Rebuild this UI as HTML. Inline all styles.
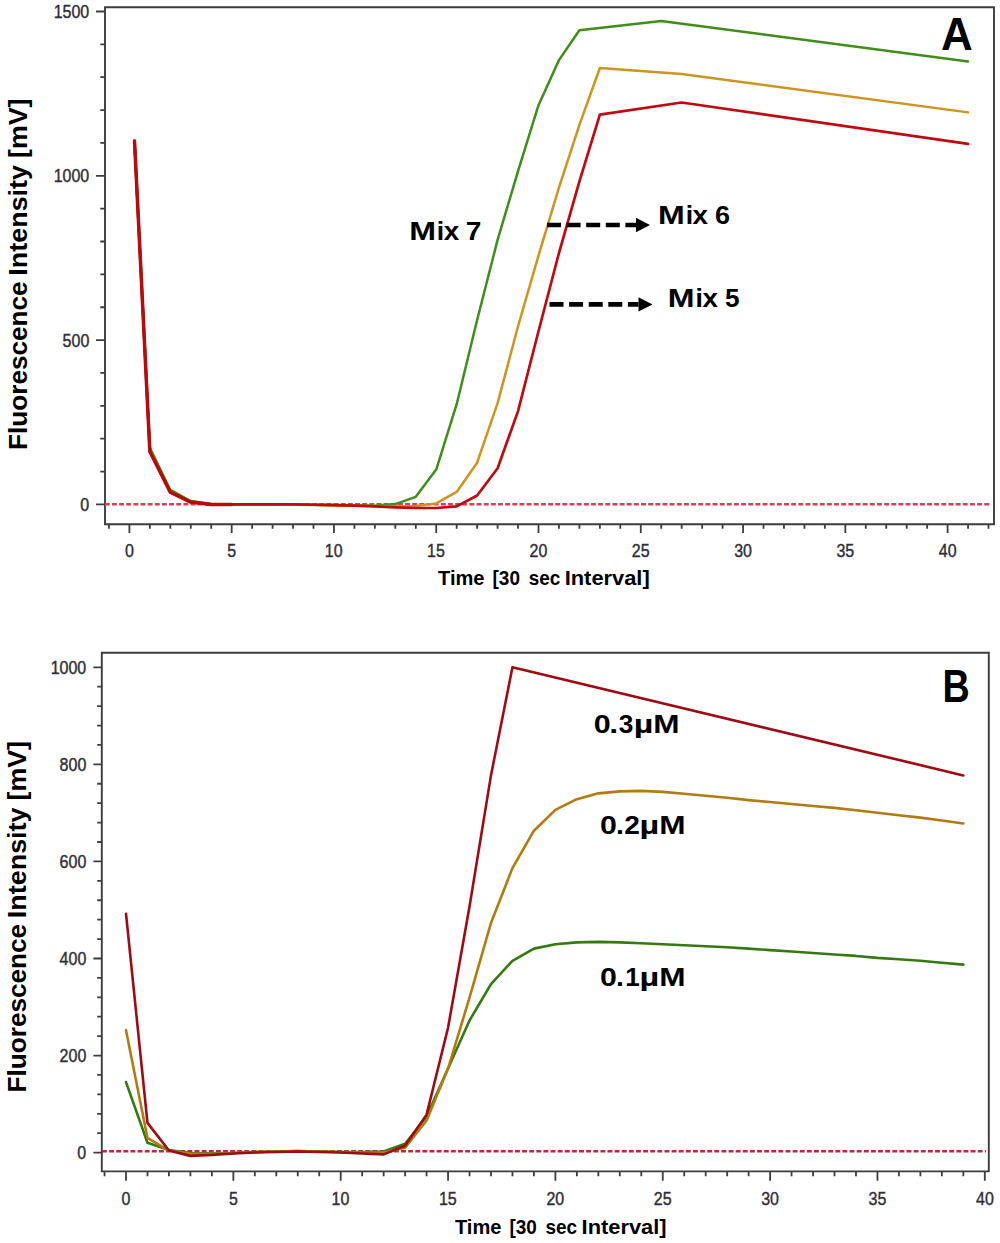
<!DOCTYPE html>
<html><head><meta charset="utf-8"><style>
html,body{margin:0;padding:0;background:#fff;}
svg{display:block;}
</style></head><body>
<svg width="1000" height="1243" viewBox="0 0 1000 1243">
<rect width="1000" height="1243" fill="#fff"/>
<path d="M105 7.2H994V524.3H105Z" fill="none" stroke="#3d3d3d" stroke-width="1.9"/>
<path d="M96 504.40H105 M100.3 471.54H105 M100.3 438.68H105 M100.3 405.82H105 M100.3 372.96H105 M96 340.10H105 M100.3 307.24H105 M100.3 274.38H105 M100.3 241.52H105 M100.3 208.66H105 M96 175.80H105 M100.3 142.94H105 M100.3 110.08H105 M100.3 77.22H105 M100.3 44.36H105 M96 11.50H105 M108.95 524.3V528.8 M129.40 524.3V533 M149.86 524.3V528.8 M170.31 524.3V528.8 M190.76 524.3V528.8 M211.22 524.3V528.8 M231.68 524.3V533 M252.13 524.3V528.8 M272.59 524.3V528.8 M293.04 524.3V528.8 M313.50 524.3V528.8 M333.95 524.3V533 M354.40 524.3V528.8 M374.86 524.3V528.8 M395.31 524.3V528.8 M415.77 524.3V528.8 M436.23 524.3V533 M456.68 524.3V528.8 M477.13 524.3V528.8 M497.59 524.3V528.8 M518.04 524.3V528.8 M538.50 524.3V533 M558.95 524.3V528.8 M579.41 524.3V528.8 M599.87 524.3V528.8 M620.32 524.3V528.8 M640.77 524.3V533 M661.23 524.3V528.8 M681.68 524.3V528.8 M702.14 524.3V528.8 M722.59 524.3V528.8 M743.05 524.3V533 M763.50 524.3V528.8 M783.96 524.3V528.8 M804.41 524.3V528.8 M824.87 524.3V528.8 M845.32 524.3V533 M865.78 524.3V528.8 M886.23 524.3V528.8 M906.69 524.3V528.8 M927.14 524.3V528.8 M947.60 524.3V533 M968.05 524.3V528.8 M988.51 524.3V528.8" stroke="#3d3d3d" stroke-width="1.8" fill="none"/>
<path d="M104.8 504.3H991" stroke="#e03a55" stroke-width="2.4" stroke-dasharray="4.9 2.25" fill="none"/>
<text font-family="'Liberation Sans', sans-serif" font-size="100" font-weight="normal" fill="#2e2e38" transform="matrix(0.160000 0 0 0.184000 80.36 510.85)" stroke="#2e2e38" stroke-width="2.2">0</text>
<text font-family="'Liberation Sans', sans-serif" font-size="100" font-weight="normal" fill="#2e2e38" transform="matrix(0.160000 0 0 0.184000 62.60 346.55)" stroke="#2e2e38" stroke-width="2.2">500</text>
<text font-family="'Liberation Sans', sans-serif" font-size="100" font-weight="normal" fill="#2e2e38" transform="matrix(0.160000 0 0 0.184000 53.64 182.25)" stroke="#2e2e38" stroke-width="2.2">1000</text>
<text font-family="'Liberation Sans', sans-serif" font-size="100" font-weight="normal" fill="#2e2e38" transform="matrix(0.160000 0 0 0.184000 53.64 17.95)" stroke="#2e2e38" stroke-width="2.2">1500</text>
<text font-family="'Liberation Sans', sans-serif" font-size="100" font-weight="normal" fill="#2e2e38" transform="matrix(0.160000 0 0 0.184000 124.96 557.25)" stroke="#2e2e38" stroke-width="2.2">0</text>
<text font-family="'Liberation Sans', sans-serif" font-size="100" font-weight="normal" fill="#2e2e38" transform="matrix(0.160000 0 0 0.184000 227.24 557.16)" stroke="#2e2e38" stroke-width="2.2">5</text>
<text font-family="'Liberation Sans', sans-serif" font-size="100" font-weight="normal" fill="#2e2e38" transform="matrix(0.160000 0 0 0.184000 324.79 557.25)" stroke="#2e2e38" stroke-width="2.2">10</text>
<text font-family="'Liberation Sans', sans-serif" font-size="100" font-weight="normal" fill="#2e2e38" transform="matrix(0.160000 0 0 0.184000 427.07 557.16)" stroke="#2e2e38" stroke-width="2.2">15</text>
<text font-family="'Liberation Sans', sans-serif" font-size="100" font-weight="normal" fill="#2e2e38" transform="matrix(0.160000 0 0 0.184000 529.54 557.25)" stroke="#2e2e38" stroke-width="2.2">20</text>
<text font-family="'Liberation Sans', sans-serif" font-size="100" font-weight="normal" fill="#2e2e38" transform="matrix(0.160000 0 0 0.184000 631.82 557.25)" stroke="#2e2e38" stroke-width="2.2">25</text>
<text font-family="'Liberation Sans', sans-serif" font-size="100" font-weight="normal" fill="#2e2e38" transform="matrix(0.160000 0 0 0.184000 734.17 557.25)" stroke="#2e2e38" stroke-width="2.2">30</text>
<text font-family="'Liberation Sans', sans-serif" font-size="100" font-weight="normal" fill="#2e2e38" transform="matrix(0.160000 0 0 0.184000 836.44 557.25)" stroke="#2e2e38" stroke-width="2.2">35</text>
<text font-family="'Liberation Sans', sans-serif" font-size="100" font-weight="normal" fill="#2e2e38" transform="matrix(0.160000 0 0 0.184000 938.84 557.25)" stroke="#2e2e38" stroke-width="2.2">40</text>
<path d="M101.8 652.8H988.8V1171.4H101.8Z" fill="none" stroke="#3d3d3d" stroke-width="1.9"/>
<path d="M93.4 1152.60H101.8 M97.2 1133.19H101.8 M97.2 1113.78H101.8 M97.2 1094.36H101.8 M97.2 1074.95H101.8 M93.4 1055.54H101.8 M97.2 1036.13H101.8 M97.2 1016.72H101.8 M97.2 997.30H101.8 M97.2 977.89H101.8 M93.4 958.48H101.8 M97.2 939.07H101.8 M97.2 919.66H101.8 M97.2 900.24H101.8 M97.2 880.83H101.8 M93.4 861.42H101.8 M97.2 842.01H101.8 M97.2 822.60H101.8 M97.2 803.18H101.8 M97.2 783.77H101.8 M93.4 764.36H101.8 M97.2 744.95H101.8 M97.2 725.54H101.8 M97.2 706.12H101.8 M97.2 686.71H101.8 M93.4 667.30H101.8 M104.53 1171.4V1176.2 M126.00 1171.4V1180.8 M147.47 1171.4V1176.2 M168.94 1171.4V1176.2 M190.41 1171.4V1176.2 M211.88 1171.4V1176.2 M233.35 1171.4V1180.8 M254.82 1171.4V1176.2 M276.29 1171.4V1176.2 M297.76 1171.4V1176.2 M319.23 1171.4V1176.2 M340.70 1171.4V1180.8 M362.17 1171.4V1176.2 M383.64 1171.4V1176.2 M405.11 1171.4V1176.2 M426.58 1171.4V1176.2 M448.05 1171.4V1180.8 M469.52 1171.4V1176.2 M490.99 1171.4V1176.2 M512.46 1171.4V1176.2 M533.93 1171.4V1176.2 M555.40 1171.4V1180.8 M576.87 1171.4V1176.2 M598.34 1171.4V1176.2 M619.81 1171.4V1176.2 M641.28 1171.4V1176.2 M662.75 1171.4V1180.8 M684.22 1171.4V1176.2 M705.69 1171.4V1176.2 M727.16 1171.4V1176.2 M748.63 1171.4V1176.2 M770.10 1171.4V1180.8 M791.57 1171.4V1176.2 M813.04 1171.4V1176.2 M834.51 1171.4V1176.2 M855.98 1171.4V1176.2 M877.45 1171.4V1180.8 M898.92 1171.4V1176.2 M920.39 1171.4V1176.2 M941.86 1171.4V1176.2 M963.33 1171.4V1176.2 M984.80 1171.4V1180.8" stroke="#3d3d3d" stroke-width="1.8" fill="none"/>
<path d="M102 1151.2H986" stroke="#b02e3e" stroke-width="2.5" stroke-dasharray="4.9 2.22" fill="none"/>
<text font-family="'Liberation Sans', sans-serif" font-size="100" font-weight="normal" fill="#2e2e38" transform="matrix(0.160000 0 0 0.184000 77.36 1159.05)" stroke="#2e2e38" stroke-width="2.2">0</text>
<text font-family="'Liberation Sans', sans-serif" font-size="100" font-weight="normal" fill="#2e2e38" transform="matrix(0.160000 0 0 0.184000 59.60 1061.99)" stroke="#2e2e38" stroke-width="2.2">200</text>
<text font-family="'Liberation Sans', sans-serif" font-size="100" font-weight="normal" fill="#2e2e38" transform="matrix(0.160000 0 0 0.184000 59.60 964.93)" stroke="#2e2e38" stroke-width="2.2">400</text>
<text font-family="'Liberation Sans', sans-serif" font-size="100" font-weight="normal" fill="#2e2e38" transform="matrix(0.160000 0 0 0.184000 59.60 867.87)" stroke="#2e2e38" stroke-width="2.2">600</text>
<text font-family="'Liberation Sans', sans-serif" font-size="100" font-weight="normal" fill="#2e2e38" transform="matrix(0.160000 0 0 0.184000 59.60 770.81)" stroke="#2e2e38" stroke-width="2.2">800</text>
<text font-family="'Liberation Sans', sans-serif" font-size="100" font-weight="normal" fill="#2e2e38" transform="matrix(0.160000 0 0 0.184000 50.64 673.75)" stroke="#2e2e38" stroke-width="2.2">1000</text>
<text font-family="'Liberation Sans', sans-serif" font-size="100" font-weight="normal" fill="#2e2e38" transform="matrix(0.160000 0 0 0.184000 121.56 1204.65)" stroke="#2e2e38" stroke-width="2.2">0</text>
<text font-family="'Liberation Sans', sans-serif" font-size="100" font-weight="normal" fill="#2e2e38" transform="matrix(0.160000 0 0 0.184000 228.91 1204.56)" stroke="#2e2e38" stroke-width="2.2">5</text>
<text font-family="'Liberation Sans', sans-serif" font-size="100" font-weight="normal" fill="#2e2e38" transform="matrix(0.160000 0 0 0.184000 331.54 1204.65)" stroke="#2e2e38" stroke-width="2.2">10</text>
<text font-family="'Liberation Sans', sans-serif" font-size="100" font-weight="normal" fill="#2e2e38" transform="matrix(0.160000 0 0 0.184000 438.89 1204.56)" stroke="#2e2e38" stroke-width="2.2">15</text>
<text font-family="'Liberation Sans', sans-serif" font-size="100" font-weight="normal" fill="#2e2e38" transform="matrix(0.160000 0 0 0.184000 546.44 1204.65)" stroke="#2e2e38" stroke-width="2.2">20</text>
<text font-family="'Liberation Sans', sans-serif" font-size="100" font-weight="normal" fill="#2e2e38" transform="matrix(0.160000 0 0 0.184000 653.79 1204.65)" stroke="#2e2e38" stroke-width="2.2">25</text>
<text font-family="'Liberation Sans', sans-serif" font-size="100" font-weight="normal" fill="#2e2e38" transform="matrix(0.160000 0 0 0.184000 761.22 1204.65)" stroke="#2e2e38" stroke-width="2.2">30</text>
<text font-family="'Liberation Sans', sans-serif" font-size="100" font-weight="normal" fill="#2e2e38" transform="matrix(0.160000 0 0 0.184000 868.57 1204.65)" stroke="#2e2e38" stroke-width="2.2">35</text>
<text font-family="'Liberation Sans', sans-serif" font-size="100" font-weight="normal" fill="#2e2e38" transform="matrix(0.160000 0 0 0.184000 976.04 1204.65)" stroke="#2e2e38" stroke-width="2.2">40</text>
<polyline points="134.51,142.94 149.86,447.88 170.31,489.94 190.76,501.11 211.22,504.07 231.68,504.40 252.13,504.40 272.59,504.40 293.04,504.40 313.50,504.73 333.95,505.06 354.40,505.39 374.86,505.71 395.31,504.07 415.77,496.84 436.23,469.57 456.68,404.18 477.13,320.06 497.59,239.88 518.04,171.20 538.50,105.15 558.95,60.13 579.41,30.23 661.23,21.03 968.05,61.45" fill="none" stroke="#3f8e18" stroke-width="2.5" stroke-linejoin="round" stroke-linecap="round"/>
<polyline points="134.51,142.94 149.86,451.82 170.31,492.41 190.76,502.26 211.22,504.40 231.68,504.40 252.13,504.40 272.59,504.40 293.04,504.73 313.50,505.06 333.95,505.39 354.40,505.71 374.86,506.04 395.31,506.37 415.77,506.04 436.23,503.41 456.68,491.91 477.13,462.67 497.59,403.19 518.04,326.30 538.50,255.65 558.95,187.63 579.41,124.87 599.87,68.02 681.68,73.93 968.05,112.38" fill="none" stroke="#cf941e" stroke-width="2.5" stroke-linejoin="round" stroke-linecap="round"/>
<polyline points="134.51,140.97 149.86,451.50 170.31,492.24 190.76,502.10 211.22,504.40 231.68,504.40 252.13,504.40 272.59,504.40 293.04,504.40 313.50,504.73 333.95,505.06 354.40,505.71 374.86,506.37 395.31,507.36 415.77,508.01 436.23,508.01 456.68,506.37 477.13,495.53 497.59,468.25 518.04,411.08 538.50,331.23 558.95,253.02 579.41,181.39 599.87,114.68 681.68,102.52 968.05,143.93" fill="none" stroke="#c00a10" stroke-width="2.7" stroke-linejoin="round" stroke-linecap="round"/>
<polyline points="134.51,140.97 149.86,451.50 170.31,492.24 190.76,502.10 211.22,504.40 231.68,504.40" fill="none" stroke="#bb0a0e" stroke-width="3.5" stroke-linejoin="round" stroke-linecap="round"/>
<polyline points="126.00,1082.10 147.47,1142.76 168.94,1150.04 190.41,1152.96 211.88,1153.44 233.35,1152.96 254.82,1151.99 276.29,1151.50 297.76,1151.01 319.23,1151.50 340.70,1151.99 362.17,1151.99 383.64,1151.50 405.11,1143.74 426.58,1116.56 448.05,1068.51 469.52,1020.47 490.99,984.07 512.46,960.78 533.93,948.64 555.40,944.28 576.87,942.34 598.34,941.85 619.81,942.34 641.28,943.31 662.75,944.28 684.22,945.25 705.69,946.22 727.16,947.19 748.63,948.64 770.10,950.10 791.57,951.56 813.04,953.01 834.51,954.47 855.98,955.92 877.45,957.87 898.92,959.32 920.39,960.78 941.86,962.72 963.33,964.66" fill="none" stroke="#347a10" stroke-width="2.6" stroke-linejoin="round" stroke-linecap="round"/>
<polyline points="126.00,1030.17 147.47,1137.91 168.94,1150.53 190.41,1153.44 211.88,1153.93 233.35,1152.96 254.82,1151.99 276.29,1151.50 297.76,1151.01 319.23,1151.50 340.70,1151.99 362.17,1152.47 383.64,1152.47 405.11,1147.62 426.58,1120.44 448.05,1068.51 469.52,997.66 490.99,922.92 512.46,868.08 533.93,830.72 555.40,809.85 576.87,799.17 598.34,793.35 619.81,791.41 641.28,790.92 662.75,791.89 684.22,793.83 705.69,795.78 727.16,797.72 748.63,800.14 770.10,802.08 791.57,804.03 813.04,805.97 834.51,807.91 855.98,810.33 877.45,812.76 898.92,815.19 920.39,817.61 941.86,820.53 963.33,823.44" fill="none" stroke="#b47a12" stroke-width="2.6" stroke-linejoin="round" stroke-linecap="round"/>
<polyline points="126.00,913.70 147.47,1122.87 168.94,1150.53 190.41,1155.87 211.88,1154.90 233.35,1153.44 254.82,1152.47 276.29,1151.99 297.76,1151.50 319.23,1151.99 340.70,1152.47 362.17,1153.44 383.64,1154.41 405.11,1145.68 426.58,1114.62 448.05,1027.75 469.52,906.42 490.99,775.39 512.46,667.17 963.33,775.39" fill="none" stroke="#a00a14" stroke-width="2.6" stroke-linejoin="round" stroke-linecap="round"/>
<path d="M547 225H636" stroke="#000" stroke-width="4.6" stroke-dasharray="14 5.6" fill="none"/>
<path d="M636 217.8L650 225L636 232.2Z" fill="#000"/>
<path d="M549.5 304.4H638.5" stroke="#000" stroke-width="4.6" stroke-dasharray="14 5.6" fill="none"/>
<path d="M638.5 297.2L652.5 304.4L638.5 311.59999999999997Z" fill="#000"/>
<text font-family="'Liberation Sans', sans-serif" font-size="100" font-weight="bold" fill="#000" transform="matrix(0.321429 0 0 0.262319 409.21 240.20)">M</text>
<text font-family="'Liberation Sans', sans-serif" font-size="100" font-weight="bold" fill="#000" transform="matrix(0.266667 0 0 0.262319 436.83 240.20)">i</text>
<text font-family="'Liberation Sans', sans-serif" font-size="100" font-weight="bold" fill="#000" transform="matrix(0.278505 0 0 0.262319 443.82 240.20)">x</text>
<text font-family="'Liberation Sans', sans-serif" font-size="100" font-weight="bold" fill="#000" transform="matrix(0.281720 0 0 0.262319 465.83 240.20)">7</text>
<text font-family="'Liberation Sans', sans-serif" font-size="100" font-weight="bold" fill="#000" transform="matrix(0.321429 0 0 0.262319 658.01 224.30)">M</text>
<text font-family="'Liberation Sans', sans-serif" font-size="100" font-weight="bold" fill="#000" transform="matrix(0.266667 0 0 0.262319 685.63 224.30)">i</text>
<text font-family="'Liberation Sans', sans-serif" font-size="100" font-weight="bold" fill="#000" transform="matrix(0.278505 0 0 0.262319 692.62 224.30)">x</text>
<text font-family="'Liberation Sans', sans-serif" font-size="100" font-weight="bold" fill="#000" transform="matrix(0.270103 0 0 0.262319 714.95 224.30)">6</text>
<text font-family="'Liberation Sans', sans-serif" font-size="100" font-weight="bold" fill="#000" transform="matrix(0.321429 0 0 0.262319 667.81 307.00)">M</text>
<text font-family="'Liberation Sans', sans-serif" font-size="100" font-weight="bold" fill="#000" transform="matrix(0.266667 0 0 0.262319 695.43 307.00)">i</text>
<text font-family="'Liberation Sans', sans-serif" font-size="100" font-weight="bold" fill="#000" transform="matrix(0.278505 0 0 0.262319 702.42 307.00)">x</text>
<text font-family="'Liberation Sans', sans-serif" font-size="100" font-weight="bold" fill="#000" transform="matrix(0.262000 0 0 0.262319 724.91 307.00)">5</text>
<text font-family="'Liberation Sans', sans-serif" font-size="100" font-weight="bold" fill="#000" transform="matrix(0.438806 0 0 0.456522 941.00 50.00)" >A</text>
<text font-family="'Liberation Sans', sans-serif" font-size="100" font-weight="bold" fill="#000" transform="matrix(0.377049 0 0 0.456522 942.55 702.00)" >B</text>
<text font-family="'Liberation Sans', sans-serif" font-size="100" font-weight="bold" fill="#000" transform="matrix(0.304211 0 0 0.259420 593.73 732.90)">0</text>
<text font-family="'Liberation Sans', sans-serif" font-size="100" font-weight="bold" fill="#000" transform="matrix(0.321429 0 0 0.259420 609.35 732.90)">.</text>
<text font-family="'Liberation Sans', sans-serif" font-size="100" font-weight="bold" fill="#000" transform="matrix(0.262626 0 0 0.259420 618.64 732.90)">3</text>
<text font-family="'Liberation Sans', sans-serif" font-size="100" font-weight="bold" fill="#000" transform="matrix(0.340000 0 0 0.259420 633.79 732.90)">µ</text>
<text font-family="'Liberation Sans', sans-serif" font-size="100" font-weight="bold" fill="#000" transform="matrix(0.315714 0 0 0.259420 653.25 732.90)">M</text>
<text font-family="'Liberation Sans', sans-serif" font-size="100" font-weight="bold" fill="#000" transform="matrix(0.303158 0 0 0.259420 600.09 834.30)">0</text>
<text font-family="'Liberation Sans', sans-serif" font-size="100" font-weight="bold" fill="#000" transform="matrix(0.285714 0 0 0.259420 616.00 834.30)">.</text>
<text font-family="'Liberation Sans', sans-serif" font-size="100" font-weight="bold" fill="#000" transform="matrix(0.281250 0 0 0.259420 624.22 834.30)">2</text>
<text font-family="'Liberation Sans', sans-serif" font-size="100" font-weight="bold" fill="#000" transform="matrix(0.342222 0 0 0.259420 639.58 834.30)">µ</text>
<text font-family="'Liberation Sans', sans-serif" font-size="100" font-weight="bold" fill="#000" transform="matrix(0.315714 0 0 0.259420 659.35 834.30)">M</text>
<text font-family="'Liberation Sans', sans-serif" font-size="100" font-weight="bold" fill="#000" transform="matrix(0.303158 0 0 0.259420 600.09 985.60)">0</text>
<text font-family="'Liberation Sans', sans-serif" font-size="100" font-weight="bold" fill="#000" transform="matrix(0.285714 0 0 0.259420 616.00 985.60)">.</text>
<text font-family="'Liberation Sans', sans-serif" font-size="100" font-weight="bold" fill="#000" transform="matrix(0.260215 0 0 0.259420 625.31 985.60)">1</text>
<text font-family="'Liberation Sans', sans-serif" font-size="100" font-weight="bold" fill="#000" transform="matrix(0.342222 0 0 0.259420 639.58 985.60)">µ</text>
<text font-family="'Liberation Sans', sans-serif" font-size="100" font-weight="bold" fill="#000" transform="matrix(0.315714 0 0 0.259420 659.35 985.60)">M</text>
<text font-family="'Liberation Sans', sans-serif" font-size="100" font-weight="bold" fill="#000" transform="matrix(0.200881 0 0 0.198551 438.00 585.00)">Time</text>
<text font-family="'Liberation Sans', sans-serif" font-size="100" font-weight="bold" fill="#000" transform="matrix(0.189630 0 0 0.198551 492.56 585.00)">[30</text>
<text font-family="'Liberation Sans', sans-serif" font-size="100" font-weight="bold" fill="#000" transform="matrix(0.189375 0 0 0.198551 528.64 585.00)">sec</text>
<text font-family="'Liberation Sans', sans-serif" font-size="100" font-weight="bold" fill="#000" transform="matrix(0.218592 0 0 0.198551 564.68 585.00)">Interval]</text>
<text font-family="'Liberation Sans', sans-serif" font-size="100" font-weight="bold" fill="#000" transform="matrix(0.200881 0 0 0.198551 454.90 1234.40)">Time</text>
<text font-family="'Liberation Sans', sans-serif" font-size="100" font-weight="bold" fill="#000" transform="matrix(0.189630 0 0 0.198551 509.46 1234.40)">[30</text>
<text font-family="'Liberation Sans', sans-serif" font-size="100" font-weight="bold" fill="#000" transform="matrix(0.189375 0 0 0.198551 545.54 1234.40)">sec</text>
<text font-family="'Liberation Sans', sans-serif" font-size="100" font-weight="bold" fill="#000" transform="matrix(0.218592 0 0 0.198551 581.58 1234.40)">Interval]</text>
<text font-family="'Liberation Sans', sans-serif" font-size="100" font-weight="bold" fill="#000" transform="matrix(0 -0.261466 0.266667 0 27.20 449.90)">Fluorescence</text>
<text font-family="'Liberation Sans', sans-serif" font-size="100" font-weight="bold" fill="#000" transform="matrix(0 -0.269307 0.266667 0 27.20 275.65)">Intensity</text>
<text font-family="'Liberation Sans', sans-serif" font-size="100" font-weight="bold" fill="#000" transform="matrix(0 -0.267773 0.266667 0 27.20 157.97)">[mV]</text>
<text font-family="'Liberation Sans', sans-serif" font-size="100" font-weight="bold" fill="#000" transform="matrix(0 -0.261466 0.266667 0 25.70 1092.40)">Fluorescence</text>
<text font-family="'Liberation Sans', sans-serif" font-size="100" font-weight="bold" fill="#000" transform="matrix(0 -0.269307 0.266667 0 25.70 918.15)">Intensity</text>
<text font-family="'Liberation Sans', sans-serif" font-size="100" font-weight="bold" fill="#000" transform="matrix(0 -0.267773 0.266667 0 25.70 800.47)">[mV]</text>
</svg>
</body></html>
